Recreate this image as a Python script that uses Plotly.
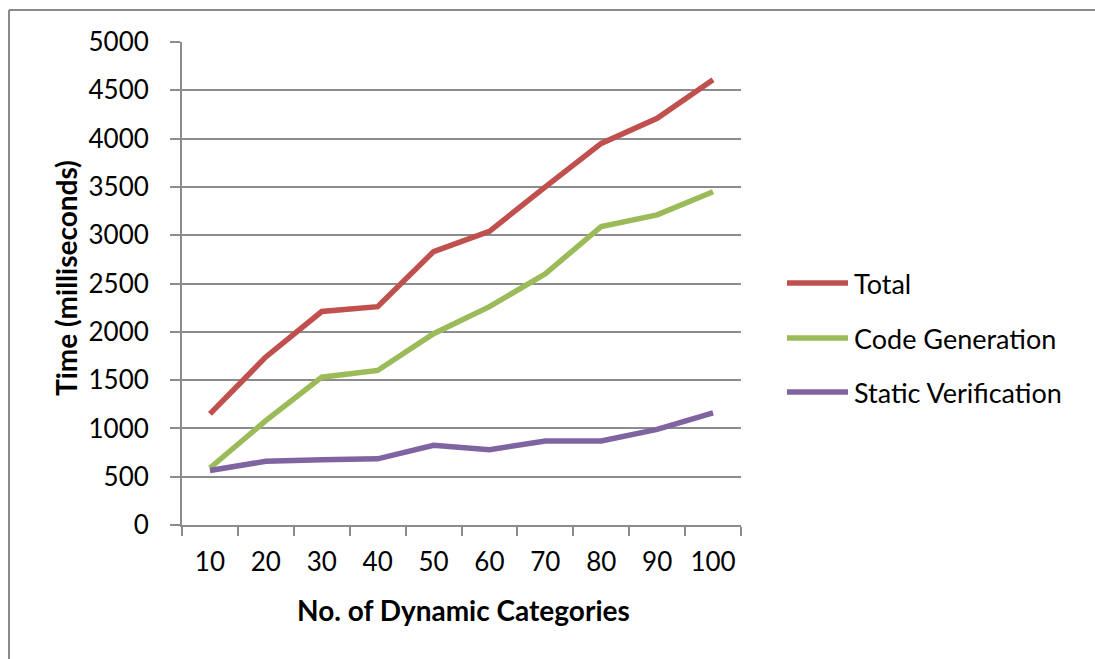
import plotly.graph_objects as go

# Data: processing time (ms) by number of dynamic categories
categories = ["10", "20", "30", "40", "50", "60", "70", "80", "90", "100"]
total = [1150, 1740, 2210, 2260, 2830, 3040, 3500, 3950, 4210, 4610]
code_generation = [590, 1080, 1530, 1600, 1980, 2260, 2600, 3090, 3210, 3450]
static_verification = [565, 660, 675, 685, 825, 780, 870, 870, 990, 1160]

series_names = ["Total", "Code Generation", "Static Verification"]
series_values = [total, code_generation, static_verification]
series_colors = ["#C0504D", "#9BBB59", "#8064A2"]

y_ticks = list(range(0, 5001, 500))

# Canvas and plot-area geometry (pixels)
W, H = 1095, 659
L, R, T, B = 182, 741, 42, 525
pw, ph = R - L, B - T

def px_x(x):
    return (x - L) / pw

def px_y(y):
    return (B - y) / ph

FONT = "Lato"
GRID = "#8C8C8C"

fig = go.Figure()
for name, vals, col in zip(series_names, series_values, series_colors):
    fig.add_trace(go.Scatter(
        x=categories, y=vals, name=name, mode="lines",
        line=dict(color=col, width=5.5),
        showlegend=False,
    ))

fig.update_layout(
    width=W, height=H,
    margin=dict(l=L, r=W - R, t=T, b=H - B, pad=0),
    paper_bgcolor="white", plot_bgcolor="white",
    font=dict(family=FONT, size=25, color="#000000"),
    xaxis=dict(
        type="category", range=[-0.5, len(categories) - 0.5],
        tickson="boundaries", ticks="outside", ticklen=9, tickwidth=2,
        tickcolor=GRID, showline=True, linecolor=GRID, linewidth=2,
        showgrid=False, zeroline=False,
        tickfont=dict(family=FONT, size=26), ticklabelstandoff=13,
    ),
    yaxis=dict(
        range=[0, 5000], tickvals=y_ticks,
        ticktext=[str(v) for v in y_ticks],
        ticks="outside", ticklen=10, tickwidth=2, tickcolor=GRID,
        showline=True, linecolor=GRID, linewidth=2,
        showgrid=True, gridcolor=GRID, gridwidth=2, zeroline=False,
        tickfont=dict(family=FONT, size=26), ticklabelstandoff=16,
    ),
)

# Axis titles
fig.add_annotation(
    x=px_x(463), y=px_y(610), xref="paper", yref="paper",
    text="<b>No. of Dynamic Categories</b>", showarrow=False,
    font=dict(family=FONT, size=28, color="#000000"),
    xanchor="center", yanchor="middle",
)
fig.add_annotation(
    x=px_x(66), y=px_y(278), xref="paper", yref="paper",
    text="<b>Time (milliseconds)</b>", showarrow=False, textangle=-90,
    font=dict(family=FONT, size=28, color="#000000"),
    xanchor="center", yanchor="middle",
)

# Legend: sample line + label per series
legend_rows = [283, 338, 392]
for name, col, yy in zip(series_names, series_colors, legend_rows):
    fig.add_shape(
        type="line", xref="paper", yref="paper",
        x0=px_x(787), x1=px_x(848), y0=px_y(yy), y1=px_y(yy),
        line=dict(color=col, width=5.5),
    )
    fig.add_annotation(
        x=px_x(852), y=px_y(yy), xref="paper", yref="paper",
        text=name, showarrow=False, xanchor="left", yanchor="middle",
        font=dict(family=FONT, size=27, color="#000000"),
    )

# Chart frame (top and left edges)
fig.add_shape(type="line", xref="paper", yref="paper",
              x0=px_x(9), x1=px_x(W + 5), y0=px_y(10), y1=px_y(10),
              line=dict(color="#8A8A8A", width=2))
fig.add_shape(type="line", xref="paper", yref="paper",
              x0=px_x(9), x1=px_x(9), y0=px_y(10), y1=px_y(H + 5),
              line=dict(color="#8A8A8A", width=2))

fig.write_html("out.html")
